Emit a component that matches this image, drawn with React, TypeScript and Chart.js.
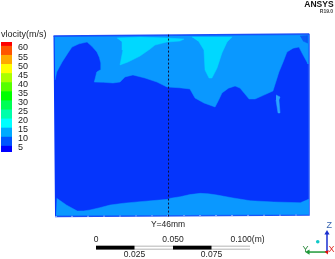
import React, { useEffect, useRef } from "react";
import Chart from "chart.js/auto";

type P = [number, number];

// Geometry of the section, in millimetres (same unit as the scale bar)
const sectionOutline: P[] = [[-27.6,116.9],[138,118.2],[138.3,0.65],[-26.6,-0.3]];
const bottomEdge: P[] = [[-26.6,-0.3],[138.3,0.65]];
const band10Top: P[] = [[-26.9,116.2],[137.7,117.5],[137.7,98.7],[137,100],[134.5,104.5],[131.8,109.7],[128,109],[124,106.5],[121.5,100],[118.8,93.5],[114.9,81.2],[109,78.5],[103.3,76],[99.4,76],[96.5,79.5],[93.5,83.1],[90.3,84.4],[86,83],[81.8,79.9],[79.5,75],[77.3,70.8],[70.1,73.4],[64.3,76.6],[61,82.5],[54,83.3],[46.1,83.8],[39.6,87],[31.8,89.6],[24,91.6],[18.8,90.3],[15.6,87],[11,86.4],[5,86.8],[-1.1,87],[0.5,93.5],[2.6,94.8],[3.1,99.4],[2.2,103],[0.6,106.5],[-2.5,110],[-5.8,113],[-11,111.8],[-15.6,109.7],[-18.2,105.9],[-22,100],[-25.5,93.5],[-26.6,88.3]];
const band10Bottom: P[] = [[-25.5,11.5],[-19,7],[-12.1,3.2],[-8,3.3],[-3.9,3.9],[2.5,5.4],[9.1,7.1],[18,8.3],[28.6,9.3],[46.6,10.8],[48.3,11.5],[54.7,12.5],[61,13.9],[67.7,14.7],[73,14.4],[78.6,13.6],[89,11.7],[100.2,9.9],[115.4,9.1],[132.7,8.6],[138,10.8],[138,1],[-26,0.3]];
const band15Left: P[] = [[13.6,115.6],[28.6,116.2],[46.1,115.6],[57.1,114.9],[54.5,113.6],[46.1,113],[38.3,111],[35.1,108.4],[28.6,103.9],[20.8,100],[15.6,98.1],[17.5,107.8],[16.9,113]];
const band15Plume: P[] = [[62.3,116.2],[88.3,116.2],[85.1,113],[81.8,105.9],[78.6,96.1],[75.3,89.6],[73.4,89.6],[70.8,94.8],[70.1,107.8],[66.9,113]];
const band5Corner: P[] = [[132.5,116.9],[137.3,117.2],[137.3,112.3],[134.4,113.6]];
const band10Sliver: P[] = [[116.9,78.6],[119.5,77.3],[118.8,75.3],[119.5,66.9],[118.2,66.9],[116.9,75.3]];
const sliceLine: P[] = [[47.1,117.8],[47.1,-0.3]];

// Scale bar (mm)
const scaleBarY = -20.5;
const scaleDark: P[][] = [[[0,scaleBarY],[25,scaleBarY]],[[50,scaleBarY],[75,scaleBarY]]];
const scaleFull: P[] = [[0,scaleBarY],[100,scaleBarY]];

// Triad
const triadOrigin: P = [150,-23.4];
const triadZ: P = [150,-11];
const triadY: P = [137.7,-23.4];
const triadDot: P = [144,-16.7];

// Legend
const legendEdges = [2.8,6,11,16,21,26,31,36,41,46,51,56,61,63.3];
const legendColors = ["#0000ff","#0055ff","#00aaff","#00ffff","#00ffaa","#00ff55","#00ff00","#55ff00","#aaff00","#ffff00","#ffaa00","#ff5500","#ff0000"];
const legendTicks = [5,10,15,20,25,30,35,40,45,50,55,60];

const labels: { text: string; x: number; y: number; font: string; color: string; align: CanvasTextAlign }[] = [
  { text: "ANSYS", x: 154.3, y: 137, font: "bold 8.5px 'Liberation Sans'", color: "#111", align: "right" },
  { text: "R19.0", x: 154, y: 132.4, font: "bold 5px 'Liberation Sans'", color: "#444", align: "right" },
  { text: "vlocity(m/s)", x: -61.7, y: 117.6, font: "9px 'Liberation Sans'", color: "#222", align: "left" },
  { text: "Y=46mm", x: 46.8, y: -5.8, font: "8.5px 'Liberation Sans'", color: "#222", align: "center" },
  { text: "0", x: 0, y: -15.6, font: "8.5px 'Liberation Sans'", color: "#222", align: "center" },
  { text: "0.050", x: 50, y: -15.6, font: "8.5px 'Liberation Sans'", color: "#222", align: "center" },
  { text: "0.100(m)", x: 98.4, y: -15.6, font: "8.5px 'Liberation Sans'", color: "#222", align: "center" },
  { text: "0.025", x: 25, y: -24.9, font: "8.5px 'Liberation Sans'", color: "#222", align: "center" },
  { text: "0.075", x: 75, y: -24.9, font: "8.5px 'Liberation Sans'", color: "#222", align: "center" },
  { text: "Z", x: 151.5, y: -6.5, font: "9px 'Liberation Sans'", color: "#3a66b0", align: "center" },
  { text: "Y", x: 136, y: -21.8, font: "9px 'Liberation Sans'", color: "#2e8b3e", align: "center" },
  { text: "X", x: 153, y: -21.8, font: "9px 'Liberation Sans'", color: "#e0302a", align: "center" },
];

const toXY = (pts: P[]) => pts.map(([x, y]) => ({ x, y }));

const MAIN = "#0535fc";
const LIGHT = "#0a98ff";
const CYAN = "#00d8ff";

const poly = (pts: P[], color: string, border?: string) => ({
  data: toXY(pts), showLine: true, fill: "shape", backgroundColor: color,
  borderColor: border ?? color, borderWidth: border ? 1.5 : 0.5, pointRadius: 0, tension: 0,
});
const line = (pts: P[], color: string, width: number, dash?: number[]) => ({
  data: toXY(pts), showLine: true, fill: false, borderColor: color, borderWidth: width,
  borderDash: dash ?? [], pointRadius: 0, tension: 0, borderCapStyle: "butt",
});
const marker = (pt: P, color: string, style: string, radius: number, rotation = 0) => ({
  data: toXY([pt]), showLine: false, pointStyle: style, pointRadius: radius, rotation,
  pointBackgroundColor: color, pointBorderColor: color, pointBorderWidth: 0,
});

const textPlugin = {
  id: "texts",
  afterDraw(chart: any) {
    const { ctx, scales } = chart;
    ctx.save();
    ctx.textBaseline = "middle";
    for (const l of labels) {
      ctx.font = l.font;
      ctx.fillStyle = l.color;
      ctx.textAlign = l.align;
      ctx.fillText(l.text, scales.x.getPixelForValue(l.x), scales.y.getPixelForValue(l.y));
    }
    ctx.restore();
  },
};

export default function App() {
  const mainRef = useRef<HTMLCanvasElement>(null);
  const legendRef = useRef<HTMLCanvasElement>(null);

  useEffect(() => {
    const layers: any[] = [
      poly(sectionOutline, MAIN, "#1c4ef8"),
      poly(band10Top, LIGHT),
      poly(band10Bottom, LIGHT),
      poly(band15Left, CYAN),
      poly(band15Plume, CYAN),
      poly(band5Corner, "#0b5af6"),
      poly(band10Sliver, "#2aa4ff"),
      line(bottomEdge, "#7fa4ff", 1, [2, 14]),
      line(sliceLine, "#101030", 1, [2, 2]),
      line(scaleFull, "#9a9a9a", 3.8),
      line(scaleFull, "#ffffff", 2.2),
      line(scaleDark[0], "#000000", 3.8),
      line(scaleDark[1], "#000000", 3.8),
      line([triadOrigin, triadZ], "#1a2fd0", 1.5),
      marker(triadZ, "#1a2fd0", "triangle", 3),
      line([triadOrigin, triadY], "#1f9a3a", 1.5),
      marker(triadY, "#1f9a3a", "triangle", 3, -90),
      marker(triadOrigin, "#e01010", "triangle", 2.5, 45),
      marker(triadDot, "#10c8c8", "circle", 1.8),
    ];
    const n = layers.length;
    layers.forEach((d, i) => { d.order = n - i; });

    const main = new Chart(mainRef.current!, {
      type: "scatter",
      data: { datasets: layers },
      options: {
        animation: false,
        responsive: false,
        layout: { padding: 0, autoPadding: false },
        plugins: { legend: { display: false }, tooltip: { enabled: false } },
        scales: {
          x: { type: "linear", display: false, min: -62.34, max: 155.2 },
          y: { type: "linear", display: false, min: -27.92, max: 140.27 },
        },
      },
      plugins: [textPlugin],
    } as any);

    const bands = legendColors.map((c, i) => ({
      data: [[legendEdges[i], legendEdges[i + 1]]],
      backgroundColor: c,
      borderWidth: 0,
      barPercentage: 1,
      categoryPercentage: 1,
    }));
    const legend = new Chart(legendRef.current!, {
      type: "bar",
      data: { labels: ["v"], datasets: bands },
      options: {
        animation: false,
        responsive: false,
        layout: { padding: { left: 1, top: 42, bottom: 107, right: 0 } },
        plugins: { legend: { display: false }, tooltip: { enabled: false } },
        scales: {
          x: { display: false, stacked: true },
          y: {
            position: "right",
            min: legendEdges[0],
            max: legendEdges[legendEdges.length - 1],
            border: { display: false },
            grid: { display: false, drawTicks: false },
            afterFit: (axis: any) => { axis.width = 28; },
            afterBuildTicks: (axis: any) => { axis.ticks = legendTicks.map((value) => ({ value })); },
            ticks: {
              padding: 6,
              autoSkip: false,
              color: "#222",
              font: { family: "'Liberation Sans'", size: 9 },
            },
          },
        },
      },
    } as any);

    return () => { main.destroy(); legend.destroy(); };
  }, []);

  const style: React.CSSProperties = { position: "absolute", left: 0, top: 0, display: "block", filter: "blur(0.35px)" };
  return (
    <div style={{ position: "fixed", left: 0, top: 0, width: 335, height: 259, background: "#fff" }}>
      <canvas ref={mainRef} width={335} height={259} style={style} />
      <canvas ref={legendRef} width={40} height={259} style={style} />
    </div>
  );
}
